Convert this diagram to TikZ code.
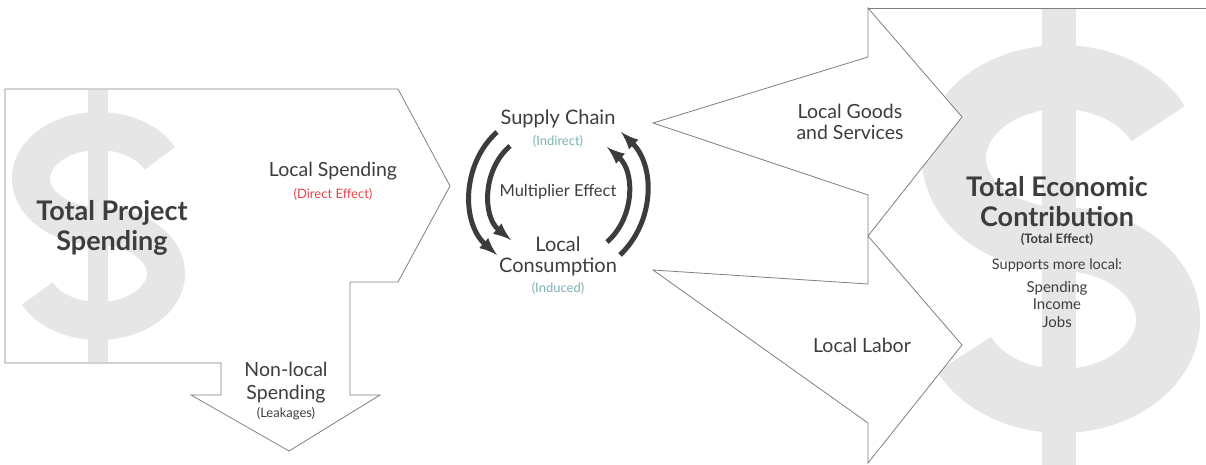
\documentclass[tikz,border=0pt]{standalone}
\usepackage{fontspec}
\setmainfont{Lato}
\usepackage{xcolor}
\usepackage{tikz}
\usetikzlibrary{positioning,arrows}

\definecolor{txtgray}{HTML}{3D3D3D}
\definecolor{linegray}{HTML}{7F7F7F}
\definecolor{dolgray}{HTML}{E6E6E6}
\definecolor{arrgray}{HTML}{3C3C3C}
\definecolor{effred}{HTML}{E2474B}
\definecolor{effteal}{HTML}{7BB1B0}

\begin{document}
\begin{tikzpicture}[
x=1pt,y=1pt,
shp/.style={
  draw=linegray,
  line width=0.8pt,
  fill=white,
  line join=miter
},
dollar/.style={
  draw=dolgray
},
big/.style={
  font=\fontsize{27}{30}\selectfont\bfseries,
  text=txtgray,
  align=center,
  inner sep=0pt
},
txt/.style={
  font=\fontsize{19.5}{22}\selectfont,
  text=txtgray,
  align=center,
  inner sep=0pt
},
sub/.style={
  font=\fontsize{13}{15}\selectfont,
  text=txtgray,
  inner sep=0pt
},
sml/.style={
  font=\fontsize{14.5}{17.5}\selectfont,
  text=txtgray,
  align=center,
  inner sep=0pt
},
cyc/.style={
  draw=arrgray,
  line width=5pt,
  -latex
},
node distance=6pt
]
\useasboundingbox (0,0) rectangle (1206,-465);

\draw[shp] (5,-89) -- (398,-89) -- (450,-186) -- (398,-282) -- (350,-282)
  -- (350,-395) -- (380,-395) -- (289,-451) -- (191,-395) -- (221,-395)
  -- (221,-363) -- (5,-363) -- cycle;
\fill[dolgray] (88,-90) rectangle (108,-362);
\draw[dollar,line width=38pt] (98.5,-178.5) ++(25:67.5 and 47.5)
  arc[start angle=25,end angle=270,x radius=67.5,y radius=47.5]
  arc[start angle=90,end angle=-155,x radius=67.5,y radius=47.5];

\fill[dolgray] (1042,-8) rectangle (1076,-470);
\draw[dollar,line width=64pt] (1061,-158) ++(25:107 and 81)
  arc[start angle=25,end angle=270,x radius=107,y radius=81]
  arc[start angle=90,end angle=-155,x radius=107,y radius=81];
\draw[shp] (868,-8) -- (962,-117) -- (868,-236) -- (962,-345) -- (868,-463)
  -- (868,-423) -- (653,-270) -- (868,-284) -- (868,-195) -- (653,-123)
  -- (868,-57) -- cycle;
\draw[draw=linegray,line width=0.8pt] (868,-8) -- (1210,-8);

\node[big] (tps) at (112,-228) {Total Project\\Spending};
\node[txt] (ls) at (333,-171) {Local Spending};
\node[sub,text=effred,below=8.5pt of ls] (de) {(Direct Effect)};
\node[txt,font=\fontsize{19.5}{23}\selectfont] (nl) at (286,-383) {Non-local\\Spending};
\node[sub,below=3.5pt of nl] (leak) {(Leakages)};

\node[txt,font=\fontsize{20}{22}\selectfont] (sc) at (558,-119) {Supply Chain};
\node[sub,text=effteal,below=7pt of sc] (indir) {(Indirect)};
\node[txt,font=\fontsize{16.5}{19}\selectfont] (mult) at (558,-192) {Multiplier Effect};
\node[txt,font=\fontsize{20}{21}\selectfont] (lc) at (558,-256) {Local\\Consumption};
\node[sub,text=effteal,below=6pt of lc] (indu) {(Induced)};

\draw[cyc] ([shift={(-61,-13)}]sc.center) to[bend right=48] ([shift={(-61,1)}]lc.center);
\draw[cyc] ([shift={(-48,-27)}]sc.center) to[bend right=50] ([shift={(-47,16)}]lc.center);
\draw[cyc] ([shift={(49,14)}]lc.center) to[bend right=49] ([shift={(49,-28)}]sc.center);
\draw[cyc] ([shift={(62,1)}]lc.center) to[bend right=46] ([shift={(63,-13)}]sc.center);

\node[txt,font=\fontsize{19.5}{21}\selectfont] (lgs) at (850,-122) {Local Goods\\and Services};
\node[txt] (ll) at (862,-345) {Local Labor};

\node[big] (tec) at (1057,-202) {Total Economic\\Contribution};
\node[sub,font=\fontsize{13}{15}\selectfont\bfseries,below=5.5pt of tec] (te) {(Total Effect)};
\node[sml] (sup) at (1057,-265) {Supports more local:};
\node[sml,font=\fontsize{15}{17.5}\selectfont,below=9pt of sup] (lst) {Spending\\Income\\Jobs};
\end{tikzpicture}
\end{document}
